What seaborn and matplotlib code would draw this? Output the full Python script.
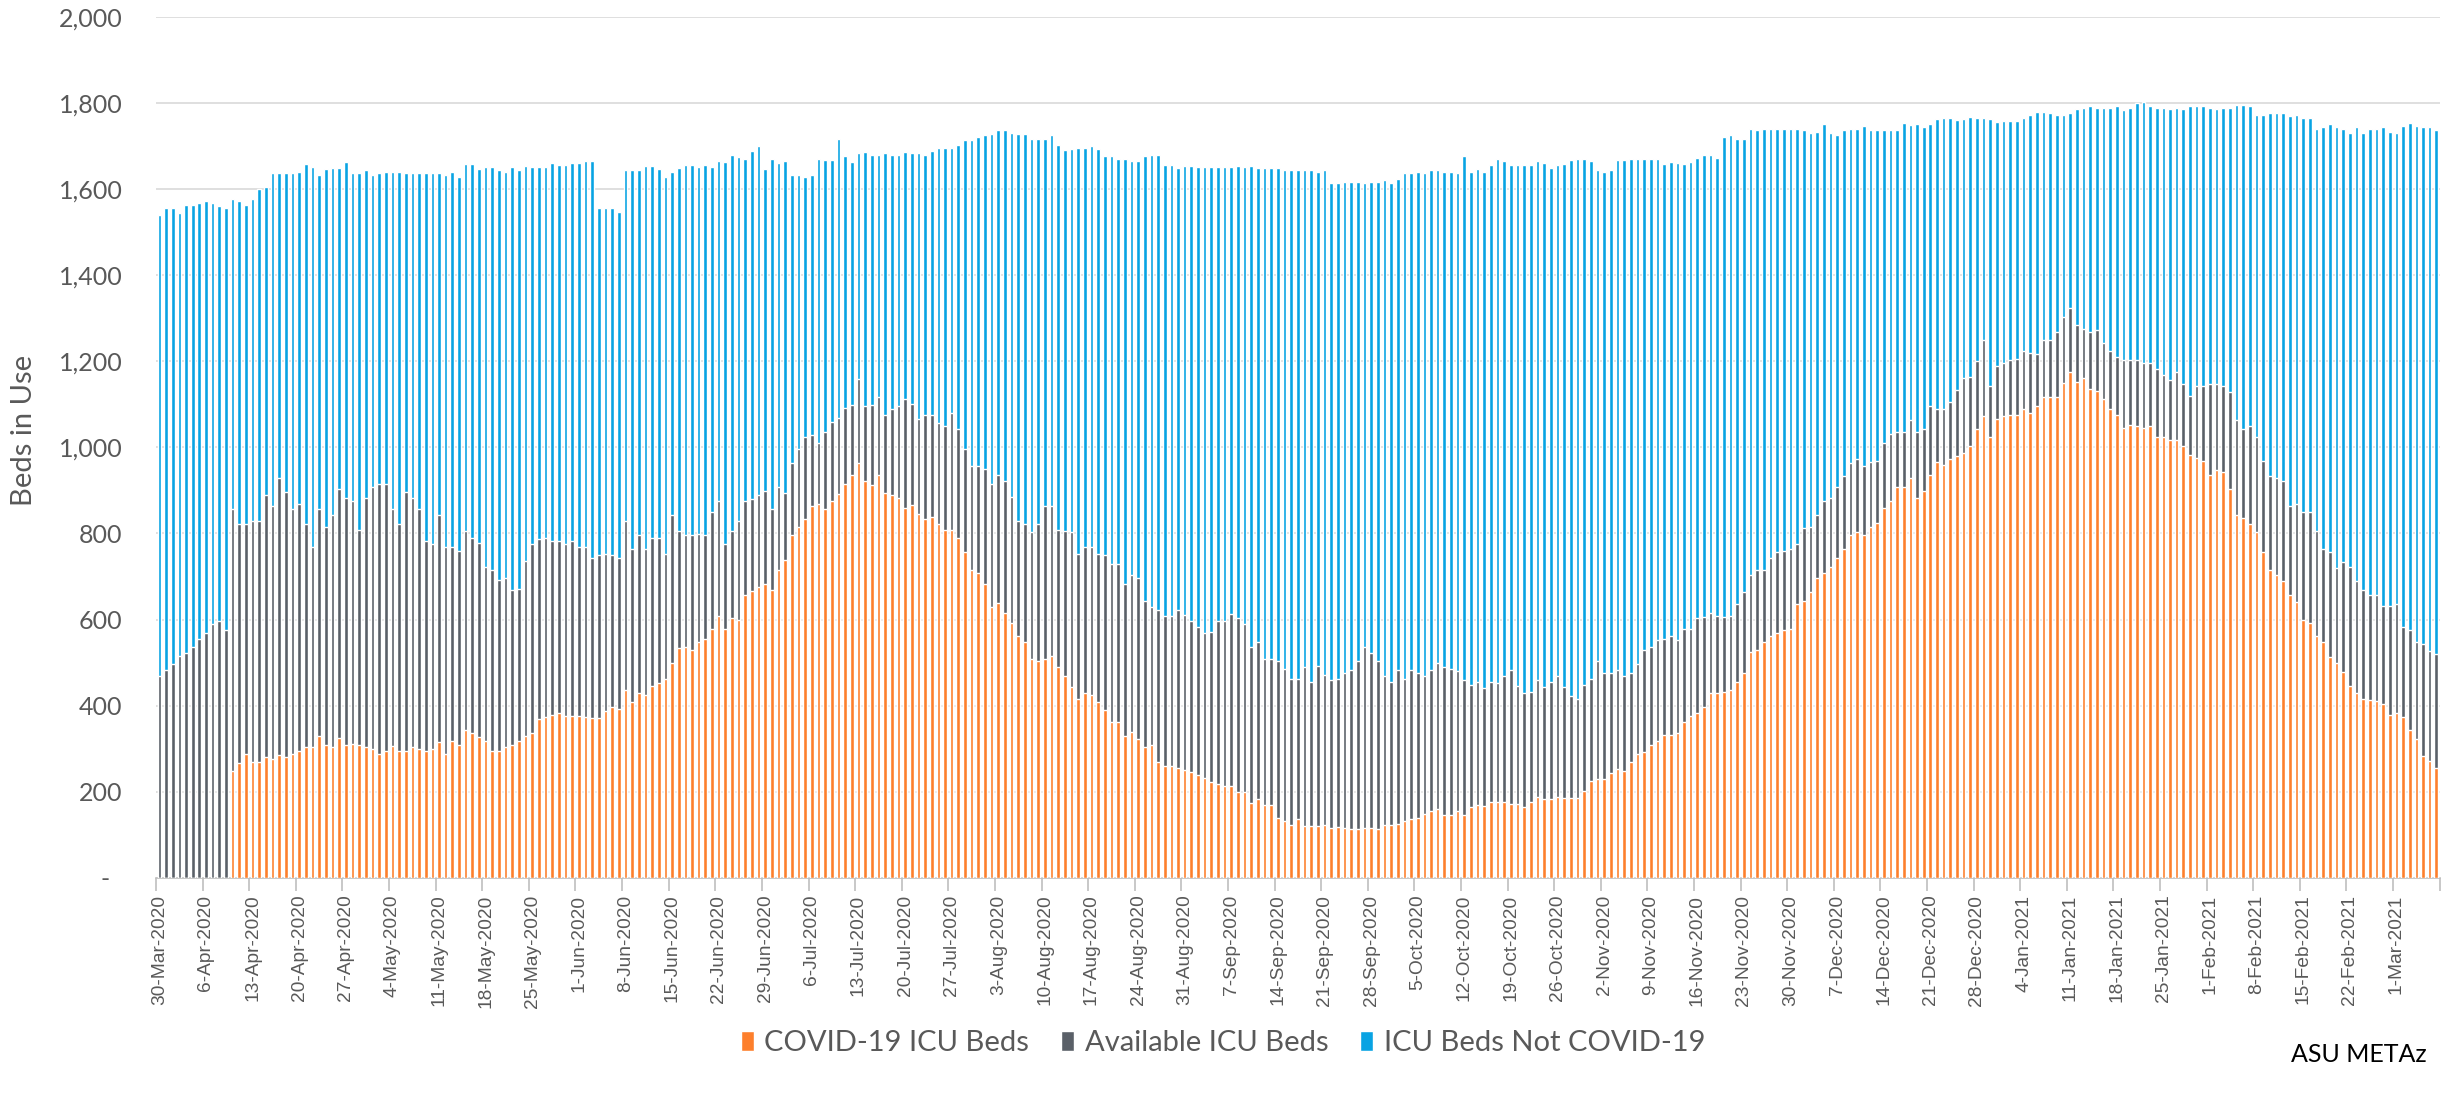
import matplotlib
matplotlib.use("Agg")
import matplotlib.pyplot as plt
from matplotlib.patches import Patch
from matplotlib.ticker import FuncFormatter
import numpy as np
import pandas as pd
import seaborn as sns

# one bar per day, 30-Mar-2020 .. 7-Mar-2021
dates = pd.date_range("2020-03-30", "2021-03-07", freq="D")

# stack tops (beds)
# orange: COVID-19 ICU beds
covid_icu = [
    0, 0, 0, 0, 0, 0, 0, 0, 0, 0,
    0, 249, 267, 289, 269, 269, 280, 276, 285, 280,
    289, 296, 303, 305, 329, 309, 303, 325, 309, 312,
    309, 303, 300, 289, 296, 307, 296, 296, 303, 300,
    296, 299, 316, 289, 319, 309, 343, 336, 327, 319,
    296, 296, 305, 309, 319, 329, 336, 369, 373, 379,
    383, 376, 376, 376, 373, 372, 372, 387, 396, 392,
    436, 409, 429, 425, 445, 452, 463, 499, 533, 536,
    529, 549, 556, 579, 609, 579, 603, 600, 656, 667,
    676, 683, 669, 716, 739, 796, 816, 833, 863, 869,
    856, 876, 892, 916, 936, 963, 923, 912, 936, 893,
    889, 883, 860, 867, 845, 833, 839, 823, 809, 809,
    789, 756, 716, 709, 683, 629, 639, 616, 593, 563,
    549, 509, 503, 509, 516, 489, 469, 443, 416, 429,
    425, 409, 389, 363, 363, 329, 339, 323, 303, 309,
    269, 259, 259, 256, 250, 245, 240, 232, 223, 219,
    213, 213, 200, 200, 173, 183, 169, 169, 139, 133,
    123, 136, 120, 120, 120, 123, 116, 119, 116, 113,
    113, 116, 116, 113, 123, 123, 125, 133, 136, 139,
    149, 156, 159, 147, 147, 156, 147, 165, 169, 167,
    176, 176, 176, 172, 172, 165, 176, 189, 183, 183,
    187, 185, 185, 185, 203, 225, 229, 229, 243, 252,
    249, 269, 289, 292, 309, 319, 333, 333, 336, 363,
    376, 383, 396, 429, 429, 432, 436, 456, 476, 525,
    529, 547, 563, 569, 576, 579, 636, 643, 663, 696,
    709, 723, 743, 763, 796, 803, 796, 816, 825, 859,
    876, 909, 909, 929, 883, 899, 936, 965, 960, 972,
    980, 988, 1003, 1043, 1072, 1023, 1067, 1072, 1076, 1076,
    1089, 1080, 1096, 1116, 1116, 1116, 1149, 1176, 1152, 1160,
    1136, 1132, 1112, 1089, 1076, 1045, 1052, 1049, 1045, 1049,
    1023, 1023, 1016, 1016, 1003, 983, 976, 969, 936, 947,
    943, 903, 843, 836, 823, 803, 756, 716, 703, 689,
    656, 640, 600, 592, 563, 549, 512, 499, 479, 445,
    429, 416, 413, 412, 403, 379, 383, 373, 343, 323,
    283, 272, 256,
]

# top of the grey band: COVID-19 + available ICU beds
covid_plus_available = [
    469, 483, 496, 516, 523, 536, 556, 569, 589, 596,
    576, 856, 823, 823, 829, 829, 889, 863, 929, 896,
    856, 869, 823, 769, 856, 816, 843, 903, 883, 876,
    809, 883, 909, 916, 916, 856, 823, 896, 883, 856,
    783, 776, 843, 769, 769, 759, 805, 789, 779, 723,
    716, 692, 696, 669, 672, 736, 776, 787, 789, 783,
    783, 776, 783, 769, 769, 743, 749, 752, 749, 743,
    829, 763, 796, 763, 789, 789, 752, 843, 805, 796,
    796, 799, 796, 849, 876, 776, 805, 829, 876, 880,
    889, 899, 856, 909, 893, 963, 996, 1023, 1029, 1009,
    1036, 1059, 1069, 1092, 1099, 1159, 1096, 1099, 1116, 1076,
    1089, 1096, 1112, 1100, 1067, 1076, 1076, 1056, 1049, 1079,
    1043, 996, 956, 956, 949, 916, 936, 923, 885, 829,
    823, 803, 823, 863, 863, 809, 805, 803, 753, 769,
    769, 753, 749, 729, 729, 683, 703, 696, 643, 629,
    623, 609, 609, 623, 610, 596, 583, 569, 572, 596,
    596, 613, 603, 589, 536, 549, 509, 509, 503, 485,
    463, 463, 489, 456, 492, 472, 459, 463, 476, 483,
    503, 536, 523, 503, 469, 456, 483, 463, 483, 476,
    469, 483, 499, 489, 485, 480, 459, 449, 456, 440,
    456, 453, 469, 483, 445, 429, 432, 459, 443, 456,
    469, 443, 423, 416, 449, 463, 503, 476, 476, 483,
    469, 476, 496, 529, 536, 552, 556, 563, 552, 579,
    579, 603, 605, 616, 609, 605, 609, 636, 663, 703,
    716, 716, 743, 756, 760, 763, 776, 813, 816, 843,
    876, 883, 909, 933, 963, 972, 956, 965, 969, 1009,
    1032, 1036, 1036, 1063, 1036, 1043, 1096, 1089, 1089, 1105,
    1133, 1160, 1163, 1200, 1249, 1143, 1189, 1196, 1203, 1205,
    1223, 1220, 1216, 1249, 1249, 1267, 1303, 1323, 1283, 1276,
    1269, 1272, 1243, 1223, 1209, 1203, 1203, 1203, 1196, 1196,
    1183, 1169, 1156, 1176, 1147, 1119, 1143, 1143, 1147, 1147,
    1143, 1129, 1063, 1043, 1049, 1023, 969, 933, 929, 923,
    863, 869, 849, 849, 805, 763, 756, 720, 733, 723,
    689, 669, 656, 656, 632, 632, 636, 583, 576, 549,
    543, 527, 519,
]

# top of the blue band: all ICU beds
total_icu = [
    1540, 1556, 1556, 1545, 1563, 1563, 1567, 1573, 1567, 1560,
    1556, 1576, 1572, 1563, 1576, 1600, 1605, 1636, 1636, 1636,
    1636, 1639, 1659, 1652, 1633, 1647, 1649, 1649, 1663, 1636,
    1636, 1643, 1633, 1636, 1639, 1639, 1639, 1636, 1636, 1636,
    1636, 1636, 1636, 1633, 1639, 1629, 1659, 1659, 1647, 1651,
    1651, 1643, 1640, 1652, 1643, 1653, 1651, 1651, 1651, 1661,
    1655, 1655, 1661, 1661, 1664, 1665, 1557, 1557, 1557, 1547,
    1645, 1645, 1645, 1653, 1653, 1647, 1629, 1639, 1649, 1656,
    1655, 1652, 1655, 1652, 1665, 1663, 1680, 1675, 1669, 1689,
    1699, 1647, 1669, 1661, 1665, 1633, 1633, 1629, 1633, 1669,
    1667, 1667, 1717, 1676, 1663, 1683, 1685, 1679, 1680, 1683,
    1680, 1680, 1687, 1684, 1684, 1680, 1688, 1696, 1696, 1696,
    1703, 1713, 1713, 1720, 1725, 1728, 1736, 1736, 1729, 1727,
    1727, 1717, 1717, 1717, 1725, 1703, 1691, 1692, 1695, 1695,
    1699, 1693, 1676, 1676, 1669, 1669, 1665, 1665, 1676, 1680,
    1680, 1656, 1656, 1649, 1653, 1653, 1651, 1651, 1651, 1651,
    1651, 1651, 1653, 1651, 1653, 1649, 1649, 1649, 1649, 1643,
    1645, 1645, 1643, 1643, 1640, 1643, 1613, 1613, 1616, 1616,
    1616, 1613, 1616, 1616, 1620, 1613, 1623, 1636, 1636, 1640,
    1636, 1643, 1645, 1640, 1640, 1636, 1676, 1640, 1647, 1640,
    1656, 1669, 1665, 1656, 1656, 1656, 1656, 1665, 1660, 1649,
    1656, 1659, 1667, 1669, 1669, 1665, 1643, 1639, 1643, 1667,
    1667, 1669, 1669, 1669, 1669, 1669, 1659, 1663, 1661, 1659,
    1663, 1672, 1680, 1680, 1672, 1720, 1725, 1715, 1717, 1740,
    1737, 1740, 1740, 1740, 1740, 1740, 1739, 1736, 1729, 1733,
    1752, 1729, 1725, 1736, 1740, 1740, 1747, 1736, 1736, 1736,
    1736, 1736, 1753, 1749, 1752, 1743, 1752, 1763, 1765, 1765,
    1760, 1763, 1767, 1765, 1765, 1763, 1756, 1759, 1759, 1759,
    1765, 1773, 1779, 1779, 1776, 1773, 1772, 1776, 1785, 1787,
    1792, 1789, 1789, 1789, 1792, 1783, 1789, 1800, 1803, 1792,
    1789, 1789, 1785, 1789, 1785, 1792, 1792, 1793, 1789, 1785,
    1789, 1789, 1796, 1796, 1792, 1773, 1773, 1776, 1776, 1776,
    1769, 1772, 1765, 1765, 1739, 1743, 1752, 1745, 1739, 1729,
    1745, 1729, 1739, 1739, 1745, 1733, 1729, 1747, 1753, 1747,
    1743, 1743, 1736,
]

ORANGE = "#FD7F2C"
GRAY = "#5A6068"
BLUE = "#08A3E3"
TXT = "#595959"

sns.set_theme(style="white")
plt.rcParams["font.family"] = ["Lato", "DejaVu Sans"]

day_labels = [d.strftime("%-d-%b-%Y") for d in dates]
df = pd.DataFrame({
    "day": day_labels,
    "covid": covid_icu,
    "covid_avail": covid_plus_available,
    "total": total_icu,
})

fig = plt.figure(figsize=(24.46, 11.17), dpi=100)
ax = fig.add_axes([0.0638, 0.214, 0.9336, 0.771])

# stacked look: draw tallest first, then overlay the lower stacks
sns.barplot(data=df, x="day", y="total", color=BLUE, saturation=1,
            width=0.55, errorbar=None, ax=ax, zorder=2)
sns.barplot(data=df, x="day", y="covid_avail", color=GRAY, saturation=1,
            width=0.55, errorbar=None, ax=ax, zorder=3)
sns.barplot(data=df, x="day", y="covid", color=ORANGE, saturation=1,
            width=0.55, errorbar=None, ax=ax, zorder=4)

n = len(dates)
ax.set_xlim(-0.5, n - 0.5)
ax.set_ylim(0, 2000)

# weekly labels, tick marks at category boundaries
label_pos = np.arange(0, n, 7)
ax.set_xticks(label_pos)
ax.set_xticklabels([day_labels[i] for i in label_pos], rotation=90,
                   fontsize=13.8, color=TXT, family="Liberation Sans")
ax.tick_params(axis="x", which="major", length=0, pad=12)
ax.set_xticks(np.arange(-0.5, n, 7), minor=True)
ax.tick_params(axis="x", which="minor", length=9, width=1.2, color="#BFBFBF",
               bottom=True)

ax.set_yticks(range(0, 2001, 200))
ax.yaxis.set_major_formatter(FuncFormatter(lambda v, p: "-  " if v == 0 else f"{int(v):,}"))
ax.tick_params(axis="y", length=0, pad=24, labelsize=18, labelcolor=TXT)

ax.grid(axis="y", color="#D9D9D9", linewidth=1.2, zorder=0)
ax.set_axisbelow(True)
sns.despine(ax=ax, left=True, top=True, right=True)
ax.spines["bottom"].set_color("#BFBFBF")
ax.spines["bottom"].set_linewidth(1.2)

ax.set_xlabel("")
ax.set_ylabel("Beds in Use", fontsize=21, color=TXT)
ax.yaxis.set_label_coords(-0.052, 0.52)

handles = [
    Patch(facecolor=ORANGE, label="COVID-19 ICU Beds"),
    Patch(facecolor=GRAY, label="Available ICU Beds"),
    Patch(facecolor=BLUE, label="ICU Beds Not COVID-19"),
]
fig.legend(handles=handles, loc="center", bbox_to_anchor=(0.5, 0.066),
           ncol=3, frameon=False, fontsize=21, handlelength=0.45,
           handleheight=0.65, handletextpad=0.35, columnspacing=1.1,
           labelcolor=TXT)

fig.text(0.992, 0.056, "ASU METAz", ha="right", va="center",
         fontsize=18, color="black")

fig.savefig("out.png", dpi=100)
